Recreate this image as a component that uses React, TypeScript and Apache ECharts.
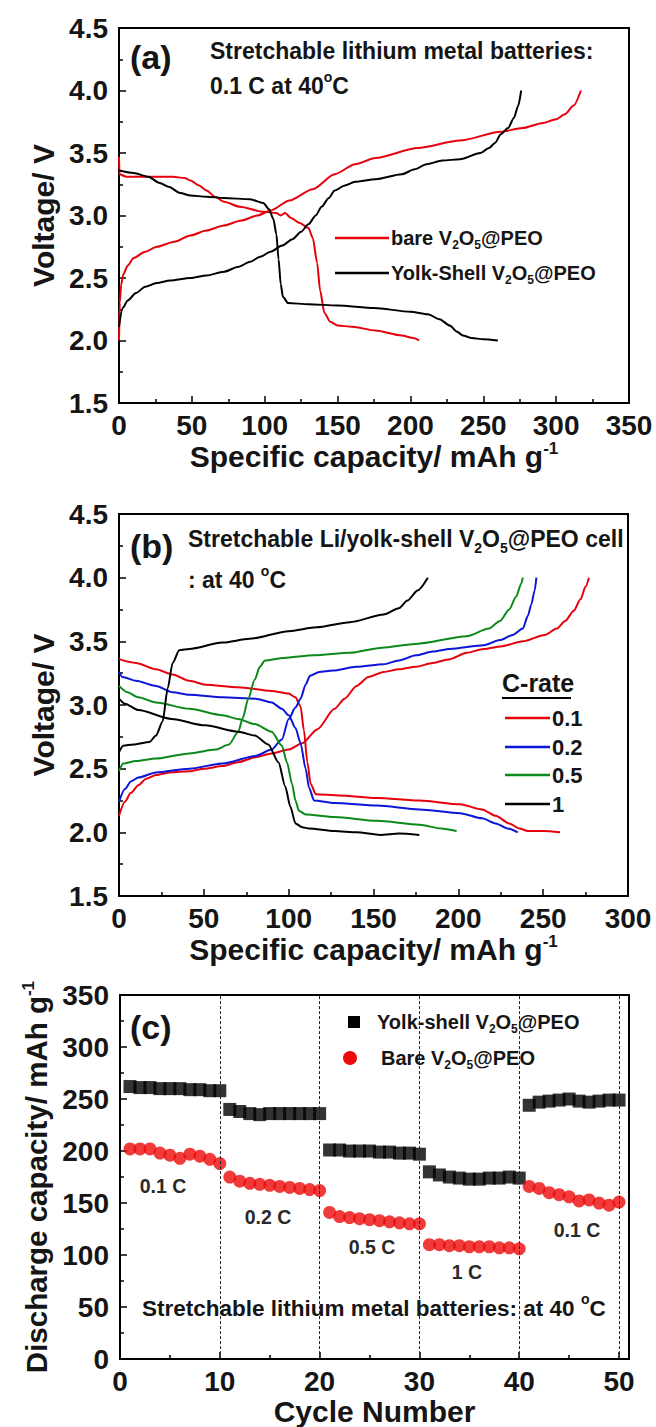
import React, { useEffect, useRef } from 'react';
import * as echarts from 'echarts';

const FONT = '"Liberation Sans", Arial, Helvetica, sans-serif';
const RED = '#e6000b';
const BLUE = '#0b16d6';
const GREEN = '#0b8a1a';
const BLACK = '#000000';
const INK = '#151515';

// ---------- Panel (a): 0.1 C at 40 °C (capacity mAh/g, voltage V) ----------
const bareCharge: number[][] = [
  [0, 2.0], [0.5, 2.3], [1.5, 2.45], [3, 2.53], [6, 2.6], [10, 2.66], [18, 2.71], [26, 2.75],
  [38, 2.79], [49, 2.84], [60, 2.88], [72, 2.92], [84, 2.96], [95, 3.0], [104, 3.04], [117, 3.12],
  [133, 3.21], [148, 3.33], [162, 3.41], [176, 3.46], [205, 3.54], [234, 3.6], [262, 3.67],
  [277, 3.7], [291, 3.74], [300, 3.77], [306, 3.81], [312, 3.88], [317, 4.0],
];
const bareDischarge: number[][] = [
  [0, 3.47], [0.3, 3.33], [5, 3.31], [20, 3.31], [37, 3.31], [45, 3.3], [49, 3.28], [55, 3.24],
  [60, 3.2], [66, 3.15], [72, 3.11], [83, 3.07], [99, 3.03], [108, 3.02], [111, 3.0], [114, 3.02],
  [118, 2.98], [124, 2.94], [130, 2.9], [133, 2.82], [136, 2.62], [138, 2.4], [141, 2.22],
  [145, 2.15], [150, 2.12], [160, 2.11], [176, 2.08], [194, 2.04], [202, 2.02], [206, 2.0],
];
const yolkCharge: number[][] = [
  [0, 2.11], [2.5, 2.26], [6, 2.32], [11.6, 2.38], [18, 2.43], [26, 2.46], [35, 2.48], [49, 2.5],
  [60, 2.52], [72, 2.55], [82, 2.59], [90, 2.63], [97, 2.67], [104, 2.71], [112, 2.76], [119, 2.81],
  [125, 2.87], [130, 2.93], [135, 3.0], [139, 3.07], [144, 3.14], [148, 3.2], [155, 3.24],
  [162, 3.27], [176, 3.29], [194, 3.33], [203, 3.37], [211, 3.41], [222, 3.44], [234, 3.45],
  [248, 3.5], [254, 3.54], [258, 3.58], [262, 3.65], [267, 3.7], [271, 3.78], [274, 3.88], [276, 4.0],
];
const yolkDischarge: number[][] = [
  [0, 3.36], [10, 3.34], [20, 3.31], [28, 3.26], [34, 3.23], [42, 3.18], [49, 3.16], [60, 3.15],
  [72, 3.14], [90, 3.13], [99, 3.1], [103, 3.05], [106, 2.97], [108, 2.85], [109.5, 2.65],
  [111, 2.45], [112.5, 2.35], [116, 2.3], [130, 2.29], [150, 2.28], [175, 2.26], [200, 2.23],
  [212, 2.21], [220, 2.17], [227, 2.12], [232, 2.07], [236, 2.04], [242, 2.02], [250, 2.01], [260, 2.0],
];

// ---------- Panel (b): C-rate study of the yolk-shell cell ----------
const rate01Charge: number[][] = [
  [0, 2.13], [3.5, 2.24], [7, 2.31], [11.4, 2.37], [16, 2.42], [21.8, 2.45], [30, 2.47], [41.4, 2.48],
  [50, 2.5], [61, 2.52], [70, 2.55], [80.5, 2.59], [90, 2.62], [100, 2.65], [108, 2.7], [117, 2.81],
  [127, 2.97], [133, 3.05], [140, 3.15], [147, 3.22], [156, 3.26], [165, 3.28], [175, 3.3],
  [185, 3.33], [195, 3.36], [205, 3.41], [215, 3.44], [225, 3.46], [238, 3.5], [251, 3.55],
  [258, 3.6], [263, 3.66], [268, 3.74], [272, 3.83], [275, 3.93], [277, 4.0],
];
const rate01Discharge: number[][] = [
  [0, 3.36], [10, 3.33], [21.8, 3.28], [31.6, 3.24], [41.4, 3.19], [51, 3.16], [70, 3.14], [90, 3.11],
  [100, 3.09], [104, 3.06], [107, 2.99], [109, 2.8], [111, 2.55], [113, 2.38], [116, 2.3], [130, 2.29],
  [152, 2.27], [177, 2.25], [201, 2.22], [214, 2.18], [222, 2.13], [230, 2.07], [236, 2.03],
  [241, 2.01], [250, 2.01], [260, 2.0],
];
const rate02Charge: number[][] = [
  [0, 2.24], [3.5, 2.34], [7, 2.4], [11.4, 2.43], [21.8, 2.47], [41.4, 2.5], [61, 2.54], [80.5, 2.6],
  [90, 2.65], [96, 2.73], [100, 2.89], [104, 2.98], [107, 3.05], [110, 3.16], [112.6, 3.23],
  [118, 3.26], [126, 3.27], [140, 3.3], [156, 3.32], [165, 3.35], [175, 3.39], [185, 3.42],
  [195, 3.44], [215, 3.47], [224.5, 3.51], [232, 3.55], [238, 3.6], [241, 3.7], [243, 3.79],
  [245, 3.9], [246, 4.0],
];
const rate02Discharge: number[][] = [
  [0, 3.26], [2, 3.22], [10, 3.19], [21.8, 3.15], [31.6, 3.1], [41.4, 3.08], [61, 3.06], [80.5, 3.05],
  [90, 3.02], [96, 2.97], [100, 2.92], [104, 2.82], [107, 2.7], [110, 2.5], [112, 2.35], [115, 2.25],
  [127, 2.23], [152, 2.21], [177, 2.18], [201, 2.15], [214, 2.11], [222, 2.07], [229, 2.03], [235, 2.0],
];
const rate05Charge: number[][] = [
  [0, 2.48], [2.5, 2.54], [10, 2.56], [21.8, 2.58], [41.4, 2.62], [57, 2.65], [64.8, 2.69],
  [70.3, 2.79], [73, 2.9], [76.2, 3.05], [80, 3.2], [83, 3.3], [86, 3.35], [97, 3.37], [115, 3.39],
  [136, 3.41], [155, 3.45], [175, 3.48], [205, 3.54], [218, 3.6], [224.5, 3.66], [230, 3.75],
  [234, 3.85], [237, 3.95], [238, 4.0],
];
const rate05Discharge: number[][] = [
  [0, 3.15], [5, 3.1], [11.4, 3.06], [21.8, 3.02], [41.4, 2.97], [61, 2.92], [70.3, 2.89], [80, 2.85],
  [90, 2.79], [96, 2.68], [99, 2.55], [102, 2.38], [104, 2.25], [106, 2.17], [110, 2.14], [127, 2.12],
  [152, 2.09], [177, 2.06], [190, 2.03], [199, 2.01],
];
const rate1Charge: number[][] = [
  [0, 2.63], [2.5, 2.68], [8.4, 2.69], [18, 2.71], [21.8, 2.76], [25.7, 2.87], [28.7, 3.13],
  [31.6, 3.33], [35.5, 3.43], [41.4, 3.44], [61, 3.49], [77, 3.52], [100, 3.58], [116.5, 3.61],
  [136, 3.65], [156, 3.71], [165, 3.76], [170, 3.82], [176, 3.9], [182, 4.0],
];
const rate1Discharge: number[][] = [
  [0, 3.05], [3.5, 3.01], [11.4, 2.96], [31, 2.89], [50.7, 2.84], [70.3, 2.79], [80, 2.76], [88, 2.69],
  [94, 2.55], [98, 2.36], [101, 2.2], [104, 2.07], [108, 2.04], [112, 2.03], [127, 2.01], [140, 2.0],
  [154, 1.98], [165, 1.99], [177, 1.98],
];

// ---------- Panel (c): rate capability, discharge capacity per cycle ----------
const yolkCycleCapacity: number[] = [
  262, 261, 261, 260, 260, 260, 259, 259, 258, 258,
  240, 238, 236, 235, 236, 236, 236, 236, 236, 236,
  201, 201, 200, 200, 200, 199, 199, 198, 198, 197,
  180, 177, 175, 174, 173, 173, 174, 174, 175, 174,
  244, 247, 248, 249, 250, 248, 247, 248, 249, 249,
];
const bareCycleCapacity: number[] = [
  202, 202, 202, 198, 196, 193, 197, 195, 192, 188,
  175, 171, 169, 168, 167, 166, 165, 164, 163, 162,
  141, 137, 136, 135, 134, 133, 132, 131, 130, 130,
  110, 110, 109, 109, 108, 108, 108, 107, 107, 106,
  166, 164, 160, 158, 156, 152, 153, 150, 148, 151,
];
const cycleNumbers: number[] = yolkCycleCapacity.map((_, i) => i + 1);
const rateBoundaries: number[] = [10, 20, 30, 40, 50];
const rateLabels: string[] = ['0.1 C', '0.2 C', '0.5 C', '1 C', '0.1 C'];

const xTicksA = { min: 0, max: 350, interval: 50 };
const xTicksB = { min: 0, max: 300, interval: 50 };
const xTicksC = { min: 0, max: 51, interval: 10 };
const yTicksV = { min: 1.5, max: 4.5, interval: 0.5 };
const yTicksC = { min: 0, max: 350, interval: 50 };

// ---------- helpers ----------
const tickLabel = { fontFamily: FONT, fontWeight: 'bold' as const, fontSize: 28, color: INK };

function axisBase(gridIndex: number) {
  return {
    gridIndex,
    type: 'value' as const,
    axisLine: { show: true, onZero: false, lineStyle: { color: BLACK, width: 2 } },
    axisTick: { show: true, inside: true, length: 7, lineStyle: { color: BLACK, width: 1.5 } },
    minorTick: { show: true, splitNumber: 2, length: 4, lineStyle: { color: BLACK, width: 1.5 } },
    splitLine: { show: false },
    minorSplitLine: { show: false },
  };
}

function nameStyle(size: number) {
  return {
    fontFamily: FONT,
    fontWeight: 'bold',
    fontSize: size,
    color: INK,
    rich: {
      t: { fontFamily: FONT, fontWeight: 'bold', fontSize: size, color: INK },
      s: { fontFamily: FONT, fontWeight: 'bold', fontSize: Math.round(size * 0.58), color: INK, padding: [0, 0, Math.round(size * 0.55), 0] },
    },
  };
}

function gRich(size: number) {
  const small = Math.round(size * 0.62);
  return {
    s: { fontFamily: FONT, fontWeight: 'bold', fontSize: small, fill: INK, padding: [Math.round(size * 0.72), 0, 0, 0] },
    u: { fontFamily: FONT, fontWeight: 'bold', fontSize: small, fill: INK, padding: [0, 0, Math.round(size * 0.8), 0] },
  };
}

function gText(x: number, y: number, text: string, size: number, align: string = 'left', fill: string = INK) {
  return {
    type: 'text',
    x,
    y,
    silent: true,
    style: {
      text,
      fill,
      fontSize: size,
      fontWeight: 'bold',
      fontFamily: FONT,
      align,
      verticalAlign: 'middle',
      rich: gRich(size),
    },
  };
}

function gLine(x1: number, y1: number, x2: number, y2: number, color: string, w = 2.5) {
  return { type: 'line', silent: true, shape: { x1, y1, x2, y2 }, style: { stroke: color, lineWidth: w } };
}

function curve(name: string, data: number[][], color: string, idx: number) {
  return {
    name,
    type: 'line',
    xAxisIndex: idx,
    yAxisIndex: idx,
    data,
    showSymbol: false,
    symbol: 'none',
    smooth: 0.25,
    smoothMonotone: 'x',
    lineStyle: { color, width: 2 },
    itemStyle: { color },
  };
}

const option: any = {
  animation: false,
  backgroundColor: '#ffffff',
  grid: [
    { left: 119, top: 28, width: 510, height: 375, show: true, borderColor: BLACK, borderWidth: 2, backgroundColor: 'transparent' },
    { left: 119, top: 514, width: 509, height: 382, show: true, borderColor: BLACK, borderWidth: 2, backgroundColor: 'transparent' },
    { left: 120, top: 995, width: 509, height: 368, show: true, borderColor: BLACK, borderWidth: 2, backgroundColor: 'transparent' },
  ],
  xAxis: [
    {
      ...axisBase(0), ...xTicksA,
      axisLabel: { ...tickLabel, margin: 8 },
      name: '{t|Specific capacity/ mAh g}{s|-1}', nameLocation: 'middle', nameGap: 34, nameTextStyle: nameStyle(30),
    },
    {
      ...axisBase(1), ...xTicksB,
      axisLabel: { ...tickLabel, margin: 8 },
      name: '{t|Specific capacity/ mAh g}{s|-1}', nameLocation: 'middle', nameGap: 32, nameTextStyle: nameStyle(30),
    },
    {
      ...axisBase(2), ...xTicksC,
      axisLabel: { ...tickLabel, margin: 8, showMaxLabel: false },
      name: 'Cycle Number', nameLocation: 'middle', nameGap: 31, nameTextStyle: nameStyle(30),
    },
  ],
  yAxis: [
    {
      ...axisBase(0), ...yTicksV,
      axisLabel: { ...tickLabel, margin: 11, formatter: (v: number) => v.toFixed(1) },
      name: 'Voltage/ V', nameLocation: 'middle', nameGap: 58, nameTextStyle: nameStyle(30),
    },
    {
      ...axisBase(1), ...yTicksV,
      axisLabel: { ...tickLabel, margin: 11, formatter: (v: number) => v.toFixed(1) },
      name: 'Voltage/ V', nameLocation: 'middle', nameGap: 58, nameTextStyle: nameStyle(30),
    },
    {
      ...axisBase(2), ...yTicksC,
      axisLabel: { ...tickLabel, margin: 11 },
      name: '{t|Discharge capacity/ mAh g}{s|-1}', nameLocation: 'middle', nameGap: 67, nameTextStyle: nameStyle(29.5),
    },
  ],
  series: [
    curve('bare V2O5@PEO charge', bareCharge, RED, 0),
    curve('bare V2O5@PEO discharge', bareDischarge, RED, 0),
    curve('Yolk-Shell V2O5@PEO charge', yolkCharge, BLACK, 0),
    curve('Yolk-Shell V2O5@PEO discharge', yolkDischarge, BLACK, 0),

    curve('0.1 C charge', rate01Charge, RED, 1),
    curve('0.1 C discharge', rate01Discharge, RED, 1),
    curve('0.2 C charge', rate02Charge, BLUE, 1),
    curve('0.2 C discharge', rate02Discharge, BLUE, 1),
    curve('0.5 C charge', rate05Charge, GREEN, 1),
    curve('0.5 C discharge', rate05Discharge, GREEN, 1),
    curve('1 C charge', rate1Charge, BLACK, 1),
    curve('1 C discharge', rate1Discharge, BLACK, 1),

    {
      name: 'rate boundaries',
      type: 'line',
      xAxisIndex: 2,
      yAxisIndex: 2,
      data: [],
      markLine: {
        silent: true,
        symbol: ['none', 'none'],
        label: { show: false },
        lineStyle: { color: '#222', width: 1, type: [3, 2] },
        data: rateBoundaries.map((c) => ({ xAxis: c })),
      },
    },
    {
      name: 'Yolk-shell V2O5@PEO',
      type: 'scatter',
      xAxisIndex: 2,
      yAxisIndex: 2,
      symbol: 'rect',
      symbolSize: 13,
      itemStyle: { color: BLACK },
      data: yolkCycleCapacity.map((v, i) => [cycleNumbers[i], v]),
    },
    {
      name: 'Bare V2O5@PEO',
      type: 'scatter',
      xAxisIndex: 2,
      yAxisIndex: 2,
      symbol: 'circle',
      symbolSize: 13,
      itemStyle: { color: '#ee0a0a' },
      data: bareCycleCapacity.map((v, i) => [cycleNumbers[i], v]),
    },
  ],
  graphic: [
    // panel (a)
    gText(130, 57, '(a)', 34),
    gText(210, 51, 'Stretchable lithium metal batteries:', 23),
    gText(210, 86, '0.1 C at 40{u|o}C', 23),
    gLine(335, 238, 389, 238, RED),
    gText(391, 238, 'bare V{s|2}O{s|5}@PEO', 20),
    gLine(335, 273, 389, 273, BLACK),
    gText(391, 273, 'Yolk-Shell V{s|2}O{s|5}@PEO', 20),

    // panel (b)
    gText(130, 546, '(b)', 34),
    gText(188, 539, 'Stretchable Li/yolk-shell V{s|2}O{s|5}@PEO cell', 23),
    gText(188, 580, ': at 40 {u|o}C', 23),
    gText(502, 683, 'C-rate', 25),
    gLine(502, 698, 571, 698, BLACK, 2),
    gLine(505, 718, 550, 718, RED),
    gText(552, 718, '0.1', 22),
    gLine(505, 747, 550, 747, BLUE),
    gText(552, 747, '0.2', 22),
    gLine(505, 775, 550, 775, GREEN),
    gText(552, 775, '0.5', 22),
    gLine(505, 804, 550, 804, BLACK),
    gText(552, 804, '1', 22),

    // panel (c)
    gText(130, 1027, '(c)', 34),
    { type: 'rect', silent: true, shape: { x: 348, y: 1016, width: 12, height: 12 }, style: { fill: BLACK } },
    gText(377, 1022, 'Yolk-shell V{s|2}O{s|5}@PEO', 20),
    { type: 'circle', silent: true, shape: { cx: 350, cy: 1058, r: 7 }, style: { fill: '#ee0a0a' } },
    gText(381, 1058, 'Bare V{s|2}O{s|5}@PEO', 20),
    gText(163, 1186, rateLabels[0], 19.5, 'center', '#2a2a2a'),
    gText(268, 1217, rateLabels[1], 19.5, 'center', '#2a2a2a'),
    gText(372, 1247, rateLabels[2], 19.5, 'center', '#2a2a2a'),
    gText(467, 1272, rateLabels[3], 19.5, 'center', '#2a2a2a'),
    gText(577, 1230, rateLabels[4], 19.5, 'center', '#2a2a2a'),
    gText(142, 1308, 'Stretchable lithium metal batteries: at 40 {u|o}C', 22.5),
  ],
};

export default function App() {
  const ref = useRef<HTMLDivElement>(null);
  useEffect(() => {
    document.body.style.margin = '0';
    const chart = echarts.init(ref.current as HTMLDivElement, null, { renderer: 'svg' });
    chart.setOption(option);
    return () => chart.dispose();
  }, []);
  return <div ref={ref} style={{ width: 656, height: 1427, background: '#fff' }} />;
}
